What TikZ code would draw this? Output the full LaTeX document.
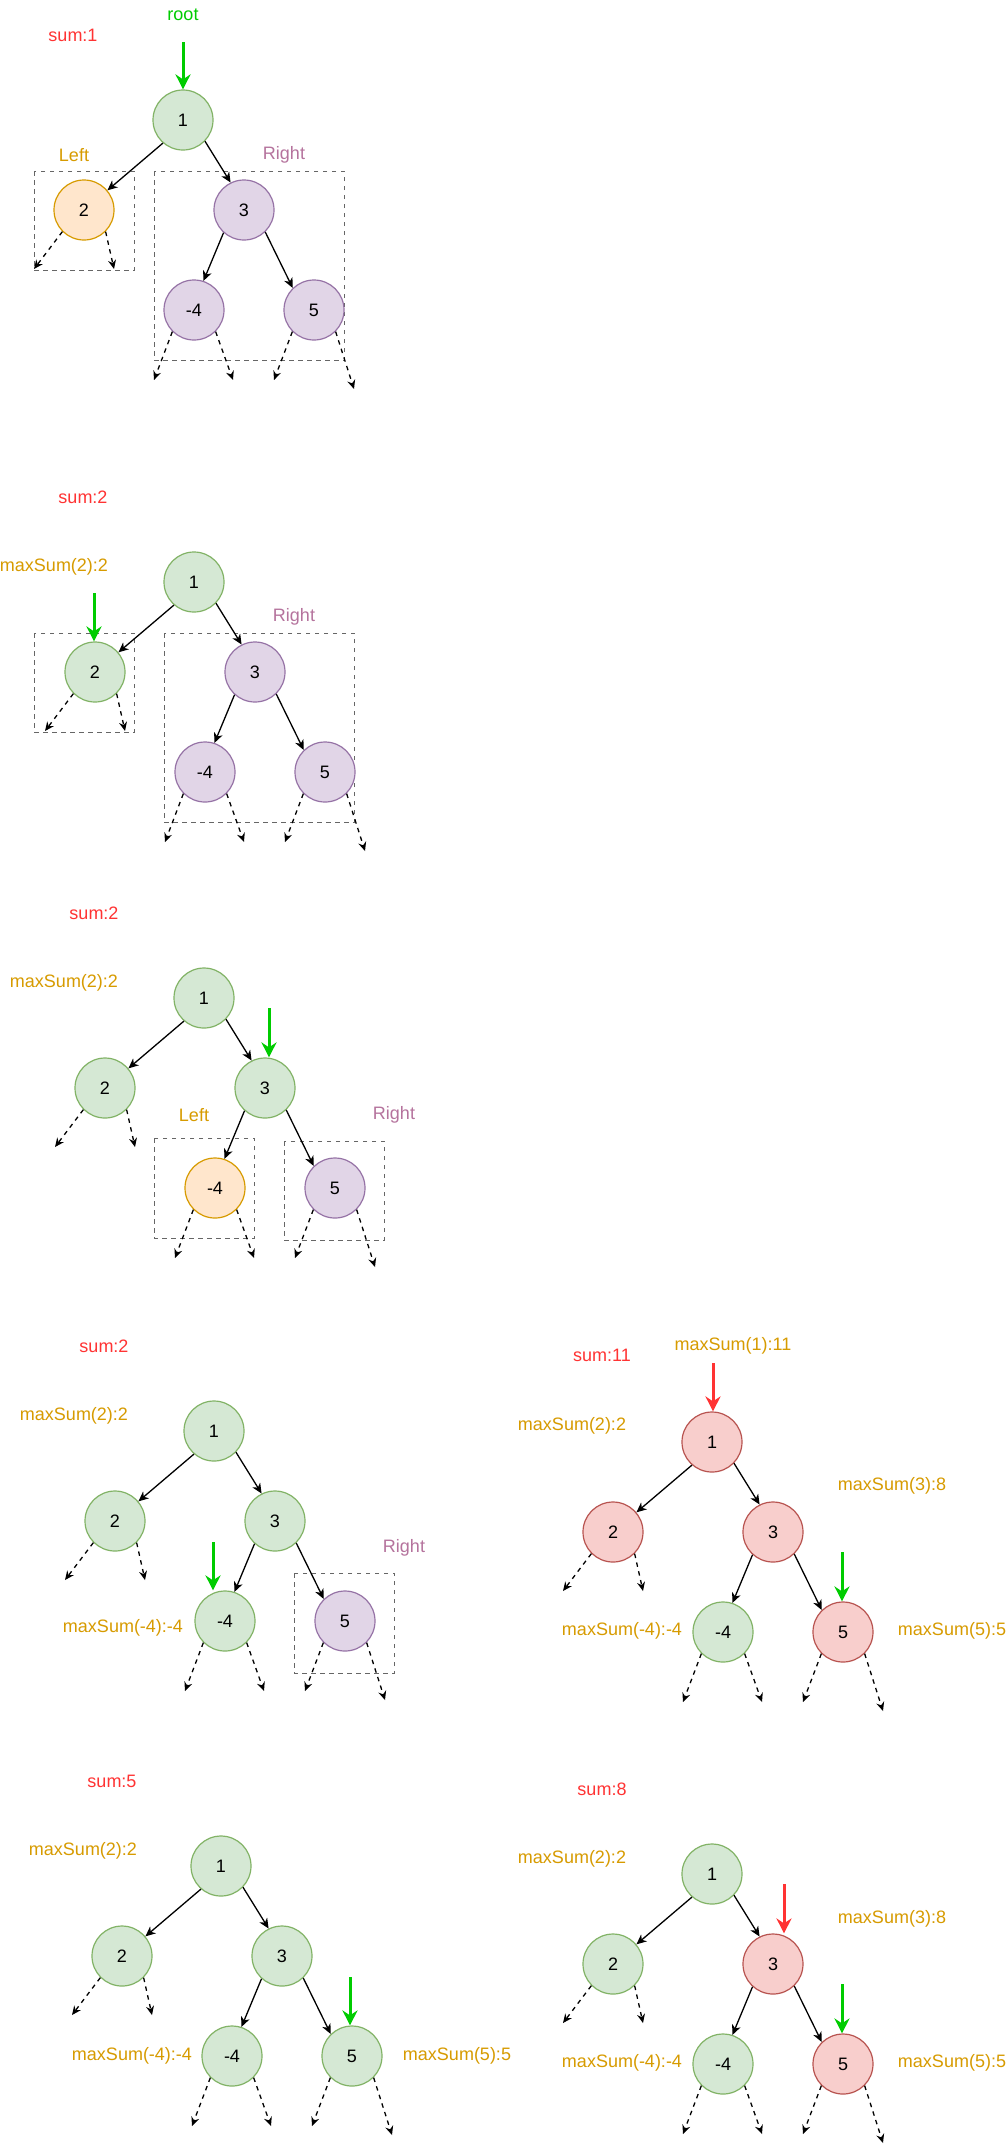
\documentclass[tikz,border=0pt]{standalone}
\usepackage{fontspec}
\setmainfont{Liberation Sans}
\usetikzlibrary{arrows.meta}
\definecolor{gfill}{HTML}{D5E8D4}\definecolor{gline}{HTML}{82B366}
\definecolor{ofill}{HTML}{FFE6CC}\definecolor{oline}{HTML}{D79B00}
\definecolor{pfill}{HTML}{E1D5E7}\definecolor{pline}{HTML}{9673A6}
\definecolor{rfill}{HTML}{F8CECC}\definecolor{rline}{HTML}{B85450}
\definecolor{sumred}{HTML}{FF3333}
\definecolor{rootgreen}{HTML}{00CC00}
\definecolor{goldtxt}{HTML}{D79B00}
\definecolor{purptxt}{HTML}{B5739D}
\tikzset{
  cnode/.style={circle,minimum size=60pt,inner sep=0pt,line width=1.2pt,font=\fontsize{18}{22}\selectfont},
  gn/.style={fill=gfill,draw=gline},
  on/.style={fill=ofill,draw=oline},
  pn/.style={fill=pfill,draw=pline},
  rn/.style={fill=rfill,draw=rline},
  edge/.style={line width=1.3pt,-{Stealth[length=10pt,width=9pt,inset=3pt]}},
  dedge/.style={line width=1.3pt,dash pattern=on 4.5pt off 4.5pt,-{Stealth[length=9pt,width=8pt,inset=3pt]}},
  dbox/.style={draw=black!60,line width=1pt,dash pattern=on 4.5pt off 4.5pt},
  txt/.style={inner sep=0pt,font=\fontsize{18}{22}\selectfont},
  sumlbl/.style={txt,text=sumred},
  goldlbl/.style={txt,text=goldtxt},
  purplbl/.style={txt,text=purptxt},
  garrow/.style={draw=rootgreen,line width=3pt,-{Stealth[length=15pt,width=15pt,inset=5pt]}},
  rarrow/.style={draw=sumred,line width=3pt,-{Stealth[length=15pt,width=15pt,inset=5pt]}},
}
\newcommand\btree[7]{%
\begin{scope}[shift={#2}]
  \node[cnode,#3] (#1a) at (0,0) {1};
  \node[cnode,#4] (#1b) at (-99,90) {2};
  \node[cnode,#5] (#1c) at (61,90) {3};
  \node[cnode,#6] (#1d) at (11,190) {-4};
  \node[cnode,#7] (#1e) at (131,190) {5};
  \coordinate (#1bl) at (-149,149);
  \coordinate (#1br) at (-69,149);
  \coordinate (#1dl) at (-29,260);
  \coordinate (#1dr) at (50,260);
  \coordinate (#1el) at (91,260);
  \coordinate (#1er) at (171,269);
  \draw[edge] (#1a.229) -- (#1b.40);
  \draw[edge] (#1a.-44) -- (#1c.116);
  \draw[edge] (#1c.228) -- (#1d.72);
  \draw[edge] (#1c.-46) -- (#1e.134);
  \draw[dedge] (#1b.225) -- (#1bl);
  \draw[dedge] (#1b.315) -- (#1br);
  \draw[dedge] (#1d.225) -- (#1dl);
  \draw[dedge] (#1d.315) -- (#1dr);
  \draw[dedge] (#1e.225) -- (#1el);
  \draw[dedge] (#1e.315) -- (#1er);
\end{scope}}
\begin{document}
\begin{tikzpicture}[x=1pt,y=-1pt]
\useasboundingbox[fill=white] (0,0) rectangle (1006,2153);
% ---------- panel 1
\draw[dbox] (34,171) rectangle (134,270);
\draw[dbox] (154,171) rectangle (344,360);
\btree{p1}{(183,120)}{gn}{on}{pn}{pn}{pn}
\node[txt,text=rootgreen] (p1root) at (183,15) {root};
\node[sumlbl] (p1sum) at (73,35) {sum:1};
\node[goldlbl] (p1left) at (74,155) {Left};
\node[purplbl] (p1right) at (284,155) {Right};
\coordinate (p1g) at (183,42);
\draw[garrow] (p1g) -- (p1g |- p1a.north);
% ---------- panel 2
\draw[dbox] (34,633) rectangle (134,732);
\draw[dbox] (164,633) rectangle (354,822);
\btree{p2}{(194,582)}{gn}{gn}{pn}{pn}{pn}
\node[sumlbl] (p2sum) at (83,497) {sum:2};
\node[goldlbl] (p2m2) at (54,567) {maxSum(2):2};
\node[purplbl] (p2right) at (294,617) {Right};
\coordinate (p2g) at (94,593);
\draw[garrow] (p2g) -- (p2g |- p2b.north);
% ---------- panel 3
\draw[dbox] (154,1138) rectangle (254,1238);
\draw[dbox] (284,1141) rectangle (384,1240);
\btree{p3}{(204,998)}{gn}{gn}{gn}{on}{pn}
\node[sumlbl] (p3sum) at (94,913) {sum:2};
\node[goldlbl] (p3m2) at (64,983) {maxSum(2):2};
\node[goldlbl] (p3left) at (194,1115) {Left};
\node[purplbl] (p3right) at (394,1115) {Right};
\coordinate (p3g) at (269,1008);
\draw[garrow] (p3g) -- (p3g |- p3c.north);
% ---------- panel 4
\draw[dbox] (294,1573) rectangle (394,1673);
\btree{p4}{(214,1431)}{gn}{gn}{gn}{gn}{pn}
\node[sumlbl] (p4sum) at (104,1346) {sum:2};
\node[goldlbl] (p4m2) at (74,1416) {maxSum(2):2};
\node[goldlbl] (p4m4) at (123,1628) {maxSum(-4):-4};
\node[purplbl] (p4right) at (404,1548) {Right};
\coordinate (p4g) at (213,1542);
\draw[garrow] (p4g) -- (p4g |- p4d.north);
% ---------- panel 5
\btree{p5}{(712,1442)}{rn}{rn}{rn}{gn}{rn}
\node[sumlbl] (p5sum) at (602,1355) {sum:11};
\node[goldlbl] (p5m1) at (733,1346) {maxSum(1):11};
\node[goldlbl] (p5m2) at (572,1426) {maxSum(2):2};
\node[goldlbl] (p5m3) at (892,1486) {maxSum(3):8};
\node[goldlbl] (p5m4) at (622,1631) {maxSum(-4):-4};
\node[goldlbl] (p5m5) at (952,1631) {maxSum(5):5};
\coordinate (p5r) at (713,1363);
\draw[rarrow] (p5r) -- (p5r |- p5a.north);
\coordinate (p5g) at (842,1552);
\draw[garrow] (p5g) -- (p5g |- p5e.north);
% ---------- panel 6
\btree{p6}{(221,1866)}{gn}{gn}{gn}{gn}{gn}
\node[sumlbl] (p6sum) at (112,1781) {sum:5};
\node[goldlbl] (p6m2) at (83,1851) {maxSum(2):2};
\node[goldlbl] (p6m4) at (132,2056) {maxSum(-4):-4};
\node[goldlbl] (p6m5) at (457,2056) {maxSum(5):5};
\coordinate (p6g) at (350,1977);
\draw[garrow] (p6g) -- (p6g |- p6e.north);
% ---------- panel 7
\btree{p7}{(712,1874)}{gn}{gn}{rn}{gn}{rn}
\node[sumlbl] (p7sum) at (602,1789) {sum:8};
\node[goldlbl] (p7m2) at (572,1859) {maxSum(2):2};
\node[goldlbl] (p7m3) at (892,1919) {maxSum(3):8};
\node[goldlbl] (p7m4) at (622,2063) {maxSum(-4):-4};
\node[goldlbl] (p7m5) at (952,2063) {maxSum(5):5};
\coordinate (p7r) at (784,1884);
\draw[rarrow] (p7r) -- (p7r |- p7c.north);
\coordinate (p7g) at (842,1984);
\draw[garrow] (p7g) -- (p7g |- p7e.north);
\end{tikzpicture}
\end{document}
